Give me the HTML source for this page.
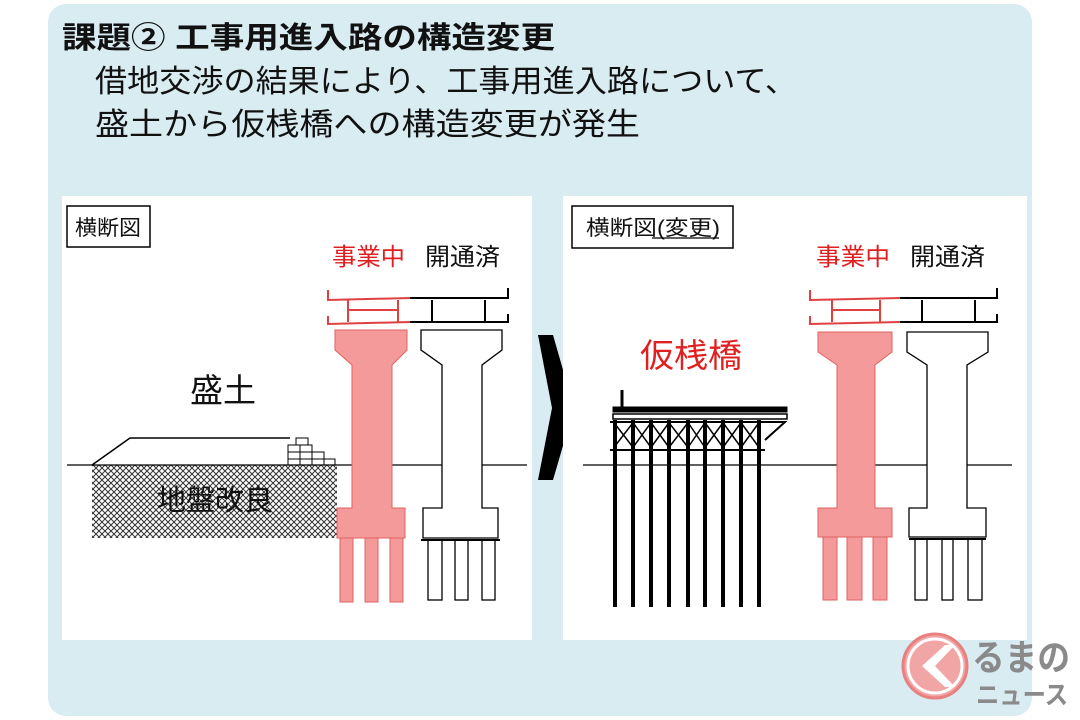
<!DOCTYPE html>
<html><head><meta charset="utf-8"><style>
html,body{margin:0;padding:0;background:#fff;}
svg{display:block;}
text{font-family:"Liberation Sans","Noto Sans CJK JP",sans-serif;}
</style></head><body>
<svg width="1080" height="720" viewBox="0 0 1080 720" xmlns="http://www.w3.org/2000/svg">
<defs>
<pattern id="hatch" width="6" height="6" patternUnits="userSpaceOnUse">
<rect width="6" height="6" fill="#fff"/>
<path d="M0,0 L6,6 M6,0 L0,6" stroke="#333" stroke-width="1"/>
</pattern>
</defs>
<rect x="0" y="0" width="1080" height="720" fill="#fff"/>
<rect x="48" y="4" width="984" height="712" rx="18" fill="#d8ecf2"/>
<text x="62" y="48" font-size="30" font-weight="bold" fill="#111" textLength="493" lengthAdjust="spacingAndGlyphs">課題② 工事用進入路の構造変更</text>
<text x="95" y="92" font-size="31" fill="#111" textLength="702" lengthAdjust="spacingAndGlyphs">借地交渉の結果により、工事用進入路について、</text>
<text x="95" y="135" font-size="31" fill="#111" textLength="545" lengthAdjust="spacingAndGlyphs">盛土から仮桟橋への構造変更が発生</text>

<!-- left panel -->
<rect x="62" y="196" width="470" height="444" fill="#fff"/>
<rect x="67" y="206" width="83" height="41" fill="#fff" stroke="#000" stroke-width="1.5"/>
<text x="75" y="235" font-size="21" fill="#111" textLength="66" lengthAdjust="spacingAndGlyphs">横断図</text>
<text x="332" y="265" font-size="24" fill="#e02020" textLength="73" lengthAdjust="spacingAndGlyphs">事業中</text>
<text x="425" y="265" font-size="24" fill="#111" textLength="75" lengthAdjust="spacingAndGlyphs">開通済</text>
<text x="190" y="402" font-size="33" fill="#111" textLength="66" lengthAdjust="spacingAndGlyphs">盛土</text>
<rect x="92" y="465" width="245" height="73" fill="url(#hatch)"/>
<text x="157" y="510" font-size="29" fill="#111" textLength="116" lengthAdjust="spacingAndGlyphs">地盤改良</text>
<path d="M92,465 L130,438 L290,438" fill="none" stroke="#000" stroke-width="1.5"/>
<g fill="#fff" stroke="#000" stroke-width="1">
<rect x="296" y="438" width="12" height="7"/><rect x="288" y="445" width="12" height="7"/><rect x="300" y="445" width="12" height="7"/>
<rect x="288" y="452" width="12" height="7"/><rect x="300" y="452" width="12" height="7"/><rect x="312" y="452" width="12" height="7"/>
<rect x="288" y="459" width="12" height="6"/><rect x="300" y="459" width="12" height="6"/><rect x="312" y="459" width="12" height="6"/><rect x="324" y="459" width="11" height="6"/>
</g>
<line x1="67" y1="465" x2="527" y2="465" stroke="#000" stroke-width="1.3"/>
<g fill="#f59a9a" stroke="#e06060" stroke-width="1">
<path d="M335,330 L407,330 L407,350 L392,365 L392,508 L405,508 L405,538 L337,538 L337,508 L352,508 L352,365 L335,350 Z"/>
<rect x="340" y="538" width="13" height="64"/><rect x="365" y="538" width="13" height="64"/><rect x="390" y="538" width="13" height="64"/>
</g>
<g fill="#fff" stroke="#000" stroke-width="1.3">
<path d="M421,330 L502,330 L502,350 L482,365 L482,508 L498,508 L498,538 L423,538 L423,508 L442,508 L442,365 L421,350 Z"/>
<rect x="428" y="540" width="14" height="60"/><rect x="455" y="540" width="13" height="60"/><rect x="482" y="540" width="13" height="60"/>
</g>
<line x1="421" y1="540" x2="500" y2="540" stroke="#000" stroke-width="2"/>
<g fill="none" stroke-width="2">
<path d="M328,290 L328,300 L410,298 M328,316 L328,324 L410,322 M348,300 L348,322 M398,300 L398,322 M348,310 L398,310" stroke="#e04040"/>
<path d="M410,298 L508,298 L508,288 M410,322 L508,322 L508,314 M432,300 L432,322 M485,300 L485,322" stroke="#000"/>
</g>

<polygon points="538,335 553,335 574,408 553,480 538,480 552,408" fill="#000"/>

<!-- right panel -->
<rect x="563" y="196" width="464" height="444" fill="#fff"/>
<rect x="572" y="206" width="161" height="42" fill="#fff" stroke="#000" stroke-width="1.5"/>
<text x="586" y="235" font-size="21" fill="#111" textLength="134" lengthAdjust="spacingAndGlyphs">横断図(変更)</text>
<line x1="652" y1="238" x2="719" y2="238" stroke="#000" stroke-width="1.2"/>
<text x="816" y="265" font-size="24" fill="#e02020" textLength="74" lengthAdjust="spacingAndGlyphs">事業中</text>
<text x="910" y="265" font-size="24" fill="#111" textLength="75" lengthAdjust="spacingAndGlyphs">開通済</text>
<text x="640" y="367" font-size="33" fill="#e02020" textLength="102" lengthAdjust="spacingAndGlyphs">仮桟橋</text>
<line x1="583" y1="465" x2="1012" y2="465" stroke="#000" stroke-width="1.3"/>
<g stroke="#000" fill="none">
<rect x="613" y="407" width="174" height="5" fill="#000" stroke-width="1"/>
<rect x="613" y="414" width="174" height="5" fill="#fff" stroke-width="1.5"/>
<line x1="622" y1="390" x2="622" y2="407" stroke-width="3"/>
<line x1="610" y1="450" x2="765" y2="450" stroke-width="2"/>
<line x1="610" y1="422" x2="765" y2="422" stroke-width="2"/>
<path d="M760,422 L785,422 L765,440" stroke-width="2"/>
<g stroke-width="1.5">
<path d="M615,424 L632,446 M632,424 L615,446 M634,424 L650,446 M650,424 L634,446 M652,424 L668,446 M668,424 L652,446 M670,424 L687,446 M687,424 L670,446 M689,424 L704,446 M704,424 L689,446 M706,424 L722,446 M722,424 L706,446 M724,424 L740,446 M740,424 L724,446 M742,424 L758,446 M758,424 L742,446"/>
</g>
<g stroke-width="4">
<line x1="615" y1="420" x2="615" y2="607"/><line x1="633" y1="420" x2="633" y2="607"/><line x1="651" y1="420" x2="651" y2="607"/><line x1="669" y1="420" x2="669" y2="607"/><line x1="688" y1="420" x2="688" y2="607"/><line x1="705" y1="420" x2="705" y2="607"/><line x1="723" y1="420" x2="723" y2="607"/><line x1="741" y1="420" x2="741" y2="607"/><line x1="759" y1="420" x2="759" y2="607"/>
</g>
</g>
<g fill="#f59a9a" stroke="#e06060" stroke-width="1">
<path d="M818,332 L892,332 L892,352 L875,365 L875,508 L892,508 L892,537 L818,537 L818,508 L837,508 L837,365 L818,352 Z"/>
<rect x="823" y="537" width="14" height="63"/><rect x="847" y="537" width="15" height="63"/><rect x="873" y="537" width="14" height="63"/>
</g>
<g fill="#fff" stroke="#000" stroke-width="1.3">
<path d="M907,332 L988,332 L988,352 L967,365 L967,508 L986,508 L986,537 L909,537 L909,508 L927,508 L927,365 L907,352 Z"/>
<rect x="915" y="539" width="12" height="61"/><rect x="942" y="539" width="11" height="61"/><rect x="968" y="539" width="14" height="61"/>
</g>
<line x1="909" y1="539" x2="986" y2="539" stroke="#000" stroke-width="2"/>
<g fill="none" stroke-width="2">
<path d="M810,290 L810,300 L900,298 M810,316 L810,324 L900,322 M832,300 L832,322 M880,300 L880,322 M832,310 L880,310" stroke="#e04040"/>
<path d="M900,298 L997,298 L997,288 M900,322 L997,322 L997,314 M922,300 L922,322 M975,300 L975,322" stroke="#000"/>
</g>

<circle cx="935" cy="666" r="32" fill="#f2a5a5" stroke="#e88080" stroke-width="3"/>
<circle cx="935" cy="666" r="27" fill="none" stroke="#fff" stroke-width="3"/>
<polygon points="945,645 922,666 945,687 955,687 935,666 955,645" fill="#fff"/>
<text x="972" y="670" font-size="36" font-weight="bold" fill="#8a8a8a" textLength="98" lengthAdjust="spacingAndGlyphs">るまの</text>
<text x="976" y="704" font-size="26" font-weight="bold" fill="#8a8a8a" textLength="92" lengthAdjust="spacingAndGlyphs">ニュース</text>
</svg>
</body></html>
